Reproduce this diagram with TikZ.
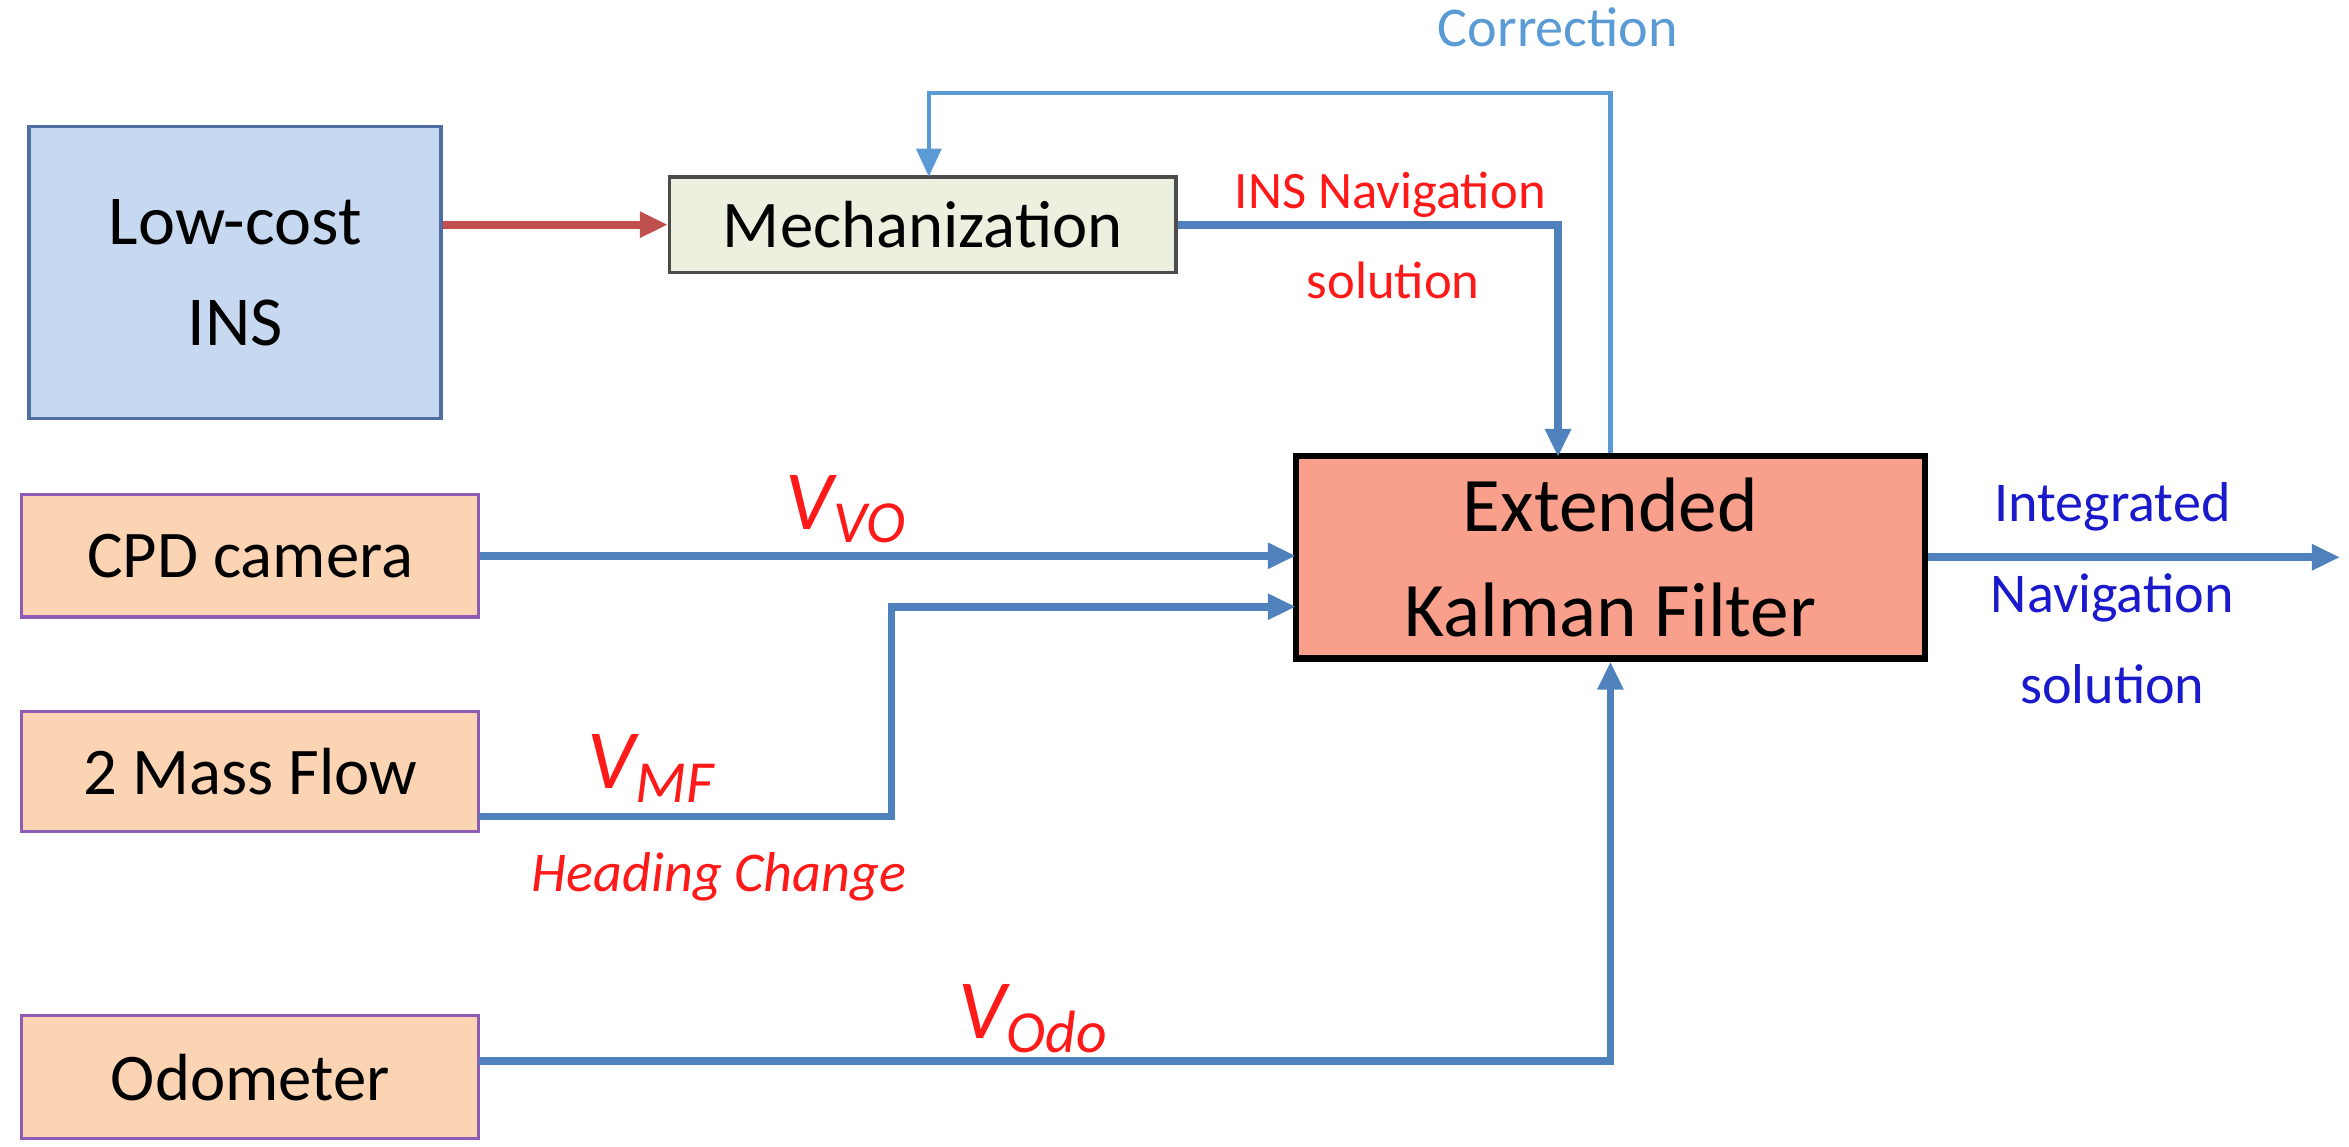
\documentclass[tikz,border=0pt]{standalone}
\usepackage{fontspec}
\setmainfont{Carlito}
\usetikzlibrary{arrows.meta}
\definecolor{lb}{HTML}{C6D9F1}
\definecolor{lbd}{HTML}{4F6FA0}
\definecolor{mg}{HTML}{EBF1DE}
\definecolor{pe}{HTML}{FBD4B4}
\definecolor{pu}{HTML}{8E5CB5}
\definecolor{sa}{HTML}{F9A08C}
\definecolor{ar}{HTML}{4F81BD}
\definecolor{cr}{HTML}{5B9BD5}
\definecolor{rr}{HTML}{C0504D}
\definecolor{tr}{HTML}{FF1A1A}
\definecolor{tb}{HTML}{1A1ACC}
\begin{document}
\begin{tikzpicture}[x=0.015cm,y=-0.015cm,
 box/.style={draw,line width=1pt,font=\fontsize{19}{24}\selectfont},
 conn/.style={draw=ar,line width=2.2pt,-{Triangle[length=8pt,width=7pt]}},
 lab/.style={text=tr,font=\fontsize{15}{18}\selectfont},
 vl/.style={text=tr,font=\fontsize{24}{26}\selectfont\itshape}]
\useasboundingbox (0,0) rectangle (1568,765);
\node[box,fill=lb,draw=lbd,minimum width=275*0.015cm,minimum height=195*0.015cm,align=center,font=\fontsize{20}{29}\selectfont] (ins) at (157,182) {Low-cost\\INS};
\node[box,fill=mg,draw=black!70,minimum width=338*0.015cm,minimum height=64*0.015cm] (mech) at (616,150) {Mechanization};
\node[box,fill=sa,draw=black,line width=1.8pt,minimum width=420*0.015cm,minimum height=135*0.015cm,align=center,font=\fontsize{22}{30}\selectfont] (ekf) at (1075,372) {Extended\\Kalman Filter};
\node[box,fill=pe,draw=pu,minimum width=305*0.015cm,minimum height=82*0.015cm] (cpd) at (167,371) {CPD camera};
\node[box,fill=pe,draw=pu,minimum width=305*0.015cm,minimum height=80*0.015cm] (mf) at (167,515) {2 Mass Flow};
\node[box,fill=pe,draw=pu,minimum width=305*0.015cm,minimum height=82*0.015cm] (odo) at (167,719) {Odometer};
\coordinate (out) at (1562,372);
\draw[draw=rr,line width=2.2pt,-{Triangle[length=8pt,width=7pt]}] (ins.east|-mech) -- (mech.west);
\draw[draw=cr,line width=1.3pt,-{Triangle[length=8pt,width=7pt]}] (ekf.north) -- (1075,62) -- (620,62) -- (620,118);
\draw[conn] (mech.east) -- (1040,150) -- (1040,305);
\draw[conn] (ekf.east) -- (out);
\draw[conn] (cpd.east) -- (865,371);
\draw[conn] (320,545) -- (595,545) -- (595,405) -- (865,405);
\draw[conn] (320,708) -- (1075,708) -- (ekf.south);
\node[text=cr,font=\fontsize{16}{19}\selectfont] (corr) at (1040,18) {Correction};
\node[lab] (insn) at (928,130) {INS Navigation};
\node[lab] (insn2) at (930,187) {solution};
\node[text=tb,font=\fontsize{16}{26}\selectfont,align=center] (intg) at (1410,396) {Integrated\\Navigation\\solution};
\node[vl] (vvo) at (565,340) {V\textsubscript{\fontsize{17}{18}\selectfont VO}};
\node[vl] (vmf) at (435,513) {V\textsubscript{\fontsize{17}{18}\selectfont MF}};
\node[lab,font=\fontsize{16}{19}\selectfont\itshape] (hc) at (480,585) {Heading Change};
\node[vl] (vodo) at (690,680) {V\textsubscript{\fontsize{17}{18}\selectfont Odo}};
\end{tikzpicture}
\end{document}
